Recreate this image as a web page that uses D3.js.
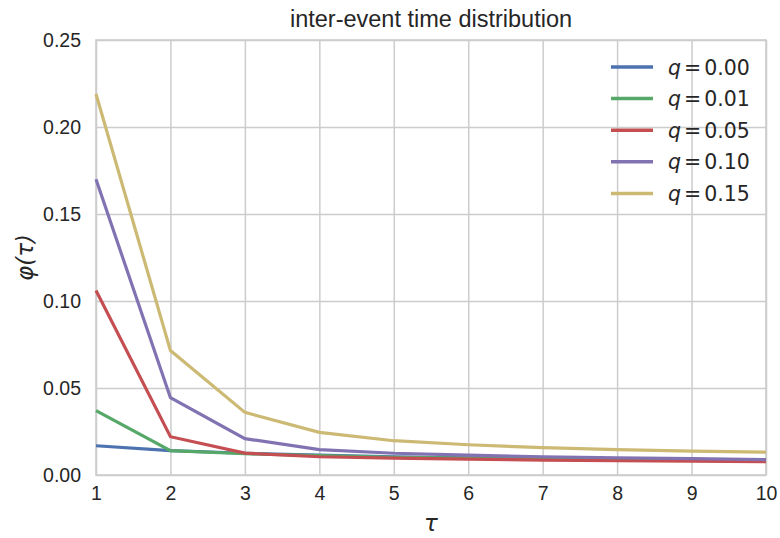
<!DOCTYPE html>
<html>
<head>
<meta charset="utf-8">
<script src="https://cdn.jsdelivr.net/npm/d3@7"></script>
<style>
  body { margin: 0; background: #fff; }
  svg { display: block; }
</style>
</head>
<body>
<svg id="chart" width="780" height="538"></svg>
<script>
// data
const tau = [1, 2, 3, 4, 5, 6, 7, 8, 9, 10];
const qLabels = ["0.00", "0.01", "0.05", "0.10", "0.15"];
const q000 = [0.0168, 0.0140, 0.0125, 0.0114, 0.0105, 0.0099, 0.0094, 0.0090, 0.0086, 0.0082];
const q001 = [0.0370, 0.0140, 0.0122, 0.0111, 0.0102, 0.0097, 0.0092, 0.0088, 0.0085, 0.0082];
const q005 = [0.1060, 0.0220, 0.0126, 0.0105, 0.0097, 0.0091, 0.0086, 0.0082, 0.0079, 0.0077];
const q010 = [0.1700, 0.0444, 0.0209, 0.0146, 0.0125, 0.0114, 0.0105, 0.0099, 0.0094, 0.0088];
const q015 = [0.2190, 0.0715, 0.0360, 0.0245, 0.0197, 0.0174, 0.0157, 0.0146, 0.0137, 0.0131];
const yTicks = [0, 0.05, 0.10, 0.15, 0.20, 0.25];

const series = [q000, q001, q005, q010, q015];
const colors = ["#4C72B0", "#55A868", "#C44E52", "#8172B2", "#CCB974"];

const svg = d3.select("#chart");
const margin = { top: 40, right: 14, bottom: 63, left: 96 };
const width = 780 - margin.left - margin.right;
const height = 538 - margin.top - margin.bottom;

const x_scale = d3.scaleLinear().domain([1, 10]).range([0, width]);
const y_scale = d3.scaleLinear().domain([0, 0.25]).range([height, 0]);

const g = svg.append("g")
    .attr("transform", `translate(${margin.left}, ${margin.top})`);

// grid
const xAxis = g.append("g")
    .attr("transform", `translate(0, ${height})`)
    .call(d3.axisBottom(x_scale).tickValues(tau).tickSize(-height).tickPadding(11).tickFormat(d3.format("d")));
const yAxis = g.append("g")
    .call(d3.axisLeft(y_scale).tickValues(yTicks).tickSize(-width).tickPadding(15).tickFormat(d3.format(".2f")));

[xAxis, yAxis].forEach((ax) => {
    ax.select(".domain").remove();
    ax.selectAll(".tick line").attr("stroke", "#cccccc").attr("stroke-width", 1.5);
    ax.selectAll(".tick text")
        .attr("fill", "#262626")
        .style("font-family", "'Liberation Sans', Arial, sans-serif")
        .style("font-size", "19.5px");
});

// frame
g.append("rect")
    .attr("width", width)
    .attr("height", height)
    .attr("fill", "none")
    .attr("stroke", "#cccccc")
    .attr("stroke-width", 1.6);

const line = d3.line()
    .x((d, i) => x_scale(tau[i]))
    .y((d) => y_scale(d));

series.forEach((s, i) => {
    g.append("path")
        .datum(s)
        .attr("fill", "none")
        .attr("stroke", colors[i])
        .attr("stroke-width", 3.2)
        .attr("d", line);
});

// title and labels
svg.append("text")
    .attr("x", margin.left + width / 2)
    .attr("y", 27)
    .attr("text-anchor", "middle")
    .attr("fill", "#262626")
    .style("font-family", "'Liberation Sans', Arial, sans-serif")
    .style("font-size", "23.5px")
    .text("inter-event time distribution");

svg.append("text")
    .attr("x", margin.left + width / 2)
    .attr("y", 531)
    .attr("text-anchor", "middle")
    .attr("fill", "#262626")
    .style("font-family", "'DejaVu Sans', sans-serif")
    .style("font-size", "23px")
    .style("font-style", "italic")
    .text("τ");

svg.append("text")
    .attr("transform", `translate(33, ${margin.top + height / 2}) rotate(-90)`)
    .attr("text-anchor", "middle")
    .attr("fill", "#262626")
    .style("font-family", "'DejaVu Sans', sans-serif")
    .style("font-size", "23px")
    .style("font-style", "italic")
    .text("φ(τ)");

// legend
const legend = svg.append("g").attr("transform", "translate(611, 67)");
qLabels.forEach((lab, i) => {
    const row = legend.append("g").attr("transform", `translate(0, ${i * 31.6})`);
    row.append("line")
        .attr("x1", 0).attr("x2", 42)
        .attr("stroke", colors[i])
        .attr("stroke-width", 3.5);
    const t = row.append("text")
        .attr("x", 57)
        .attr("y", 7.5)
        .attr("fill", "#262626")
        .style("font-family", "'DejaVu Sans', sans-serif")
        .style("font-size", "20.5px");
    t.append("tspan").style("font-style", "italic").text("q");
    t.append("tspan").attr("dx", 3).text("=");
    t.append("tspan").attr("dx", 3).text(lab);
});
</script>
</body>
</html>
